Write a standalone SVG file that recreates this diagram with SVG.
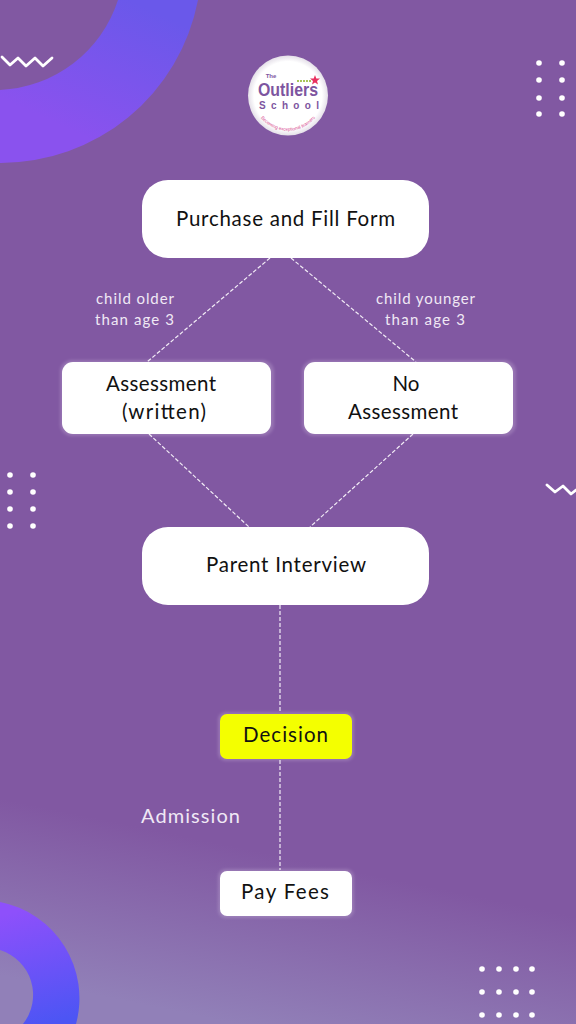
<svg xmlns="http://www.w3.org/2000/svg" width="576" height="1024" viewBox="0 0 576 1024">
<defs>
<linearGradient id="bg" gradientUnits="userSpaceOnUse" x1="300" y1="860" x2="265" y2="1030"><stop offset="0" stop-color="#8158a2"/><stop offset="1" stop-color="#9180b8"/></linearGradient>
<linearGradient id="arcA" gradientUnits="userSpaceOnUse" x1="130" y1="0" x2="70" y2="130"><stop offset="0" stop-color="#6a58ea"/><stop offset="1" stop-color="#8a52ee"/></linearGradient>
<linearGradient id="arcB" gradientUnits="userSpaceOnUse" x1="20" y1="910" x2="50" y2="1024"><stop offset="0" stop-color="#8e50fb"/><stop offset="1" stop-color="#4c55f4"/></linearGradient>
<radialGradient id="lg"><stop offset="0.85" stop-color="#fff"/><stop offset="1" stop-color="#e4dfe8"/></radialGradient>
<filter id="glow" x="-10%" y="-15%" width="120%" height="130%"><feGaussianBlur stdDeviation="1.5"/></filter>
<path id="curve" d="M254 104A35 35 0 0 0 322 104"/>
</defs>
<style>
.t{font-family:"Lato","Noto Sans",sans-serif;text-anchor:middle}
.d{fill:#111;font-size:20.500px}
.w{fill:#f0e8f5;font-size:15px}
.c{fill:none;stroke:#f2ecf6;stroke-width:1.200;stroke-dasharray:4 2}
.h{fill:#e8dcf0;opacity:.22;filter:url(#glow)}
.n{fill:#fff}
.dots circle{fill:#fff;r:2.800px}
.z{fill:none;stroke:#fff;stroke-width:2.800;stroke-linejoin:round;stroke-linecap:round}
.lo{font-family:"Liberation Sans",sans-serif;text-anchor:middle;fill:#7d55a0;font-weight:700}
</style>
<rect width="576" height="1024" fill="url(#bg)"/>
<path d="M198 0A201 201 0 0 1 0 163V90A130 130 0 0 0 118 0Z" fill="url(#arcA)"/>
<path d="M0 902A98 98 0 0 1 76 1024H23A47 47 0 0 0 0 950Z" fill="url(#arcB)"/>
<path class="z" d="M2 57L10 65L18 58L26 66L35 58L43 66L52 58"/>
<path class="z" d="M547 485L555 492L563 486L571 494L576 490"/>
<g class="dots">
<circle cx="539" cy="63"/><circle cx="562" cy="63"/><circle cx="539" cy="80"/><circle cx="562" cy="80"/><circle cx="539" cy="98"/><circle cx="562" cy="98"/><circle cx="539" cy="114"/><circle cx="562" cy="114"/>
<circle cx="10" cy="475"/><circle cx="33" cy="475"/><circle cx="10" cy="492"/><circle cx="33" cy="492"/><circle cx="10" cy="509"/><circle cx="33" cy="509"/><circle cx="10" cy="526"/><circle cx="33" cy="526"/>
<circle cx="482" cy="969"/><circle cx="499" cy="969"/><circle cx="516" cy="969"/><circle cx="532" cy="969"/><circle cx="482" cy="992"/><circle cx="499" cy="992"/><circle cx="516" cy="992"/><circle cx="532" cy="992"/><circle cx="482" cy="1015"/><circle cx="499" cy="1015"/><circle cx="516" cy="1015"/><circle cx="532" cy="1015"/>
</g>
<g id="connectors">
<path class="c" d="M270 258L147 362"/><path class="c" d="M291 258L416 362"/>
<path class="c" d="M149 434L249 527"/><path class="c" d="M413 434L310 527"/>
<path class="c" d="M280 605V713"/><path class="c" d="M280 760V870"/>
</g>
<g id="logo">
<circle cx="288" cy="95.500" r="40" fill="url(#lg)"/>
<text class="lo" x="288" y="96" style="font-size:19px" textLength="60" lengthAdjust="spacingAndGlyphs">Outliers</text>
<text class="lo" x="271" y="77.500" style="font-size:6px">The</text>
<text class="lo" x="289" y="109" style="font-size:10px" textLength="60">School</text>
<text style="font-family:'Liberation Sans',sans-serif;font-size:4.500px;fill:#d6408a;text-anchor:middle"><textPath href="#curve" startOffset="50%">Becoming exceptional learners</textPath></text>
<path d="M315 75l1.300 3.500 3.700.1-3 2.300 1 3.600-3-2.100-3 2.100 1-3.600-3-2.300 3.700-.1z" fill="#e8305f"/>
<path d="M297 81h14" stroke="#a9c65a" stroke-width="2" stroke-dasharray="2 1"/>
</g>
<g id="purchase"><rect class="n" x="142" y="180" width="287" height="78" rx="26"/><text class="t d" x="285.500" y="226" textLength="219">Purchase and Fill Form</text></g>
<g id="assessment"><rect class="h" x="60" y="360" width="214" height="76" rx="12"/><rect class="n" x="62" y="362" width="209" height="72" rx="11"/><text class="t d" x="161" y="391" textLength="110">Assessment</text><text class="t d" x="164" y="419" textLength="84">(written)</text></g>
<g id="no-assessment"><rect class="h" x="302" y="360" width="214" height="76" rx="12"/><rect class="n" x="304" y="362" width="209" height="72" rx="11"/><text class="t d" x="406" y="391">No</text><text class="t d" x="403" y="419" textLength="110">Assessment</text></g>
<g id="interview"><rect class="n" x="142" y="527" width="287" height="78" rx="26"/><text class="t d" x="286" y="572" textLength="160">Parent Interview</text></g>
<g id="decision"><rect class="h" x="218" y="712" width="136" height="49" rx="8"/><rect x="220" y="714" width="132" height="45" rx="7" fill="#f4ff00"/><text class="t d" x="285.500" y="742" textLength="85">Decision</text></g>
<g id="pay"><rect class="h" x="218" y="869" width="136" height="49" rx="8"/><rect class="n" x="220" y="871" width="132" height="45" rx="7"/><text class="t d" x="285" y="899" textLength="88">Pay Fees</text></g>
<g id="labels">
<text class="t w" x="135" y="304" textLength="78">child older</text><text class="t w" x="134.500" y="325" textLength="79">than age 3</text>
<text class="t w" x="425.500" y="304" textLength="99">child younger</text><text class="t w" x="425" y="325" textLength="80">than age 3</text>
<text class="t" x="190.500" y="823" textLength="99" style="fill:#f0e8f5;font-size:20px">Admission</text>
</g>
</svg>
